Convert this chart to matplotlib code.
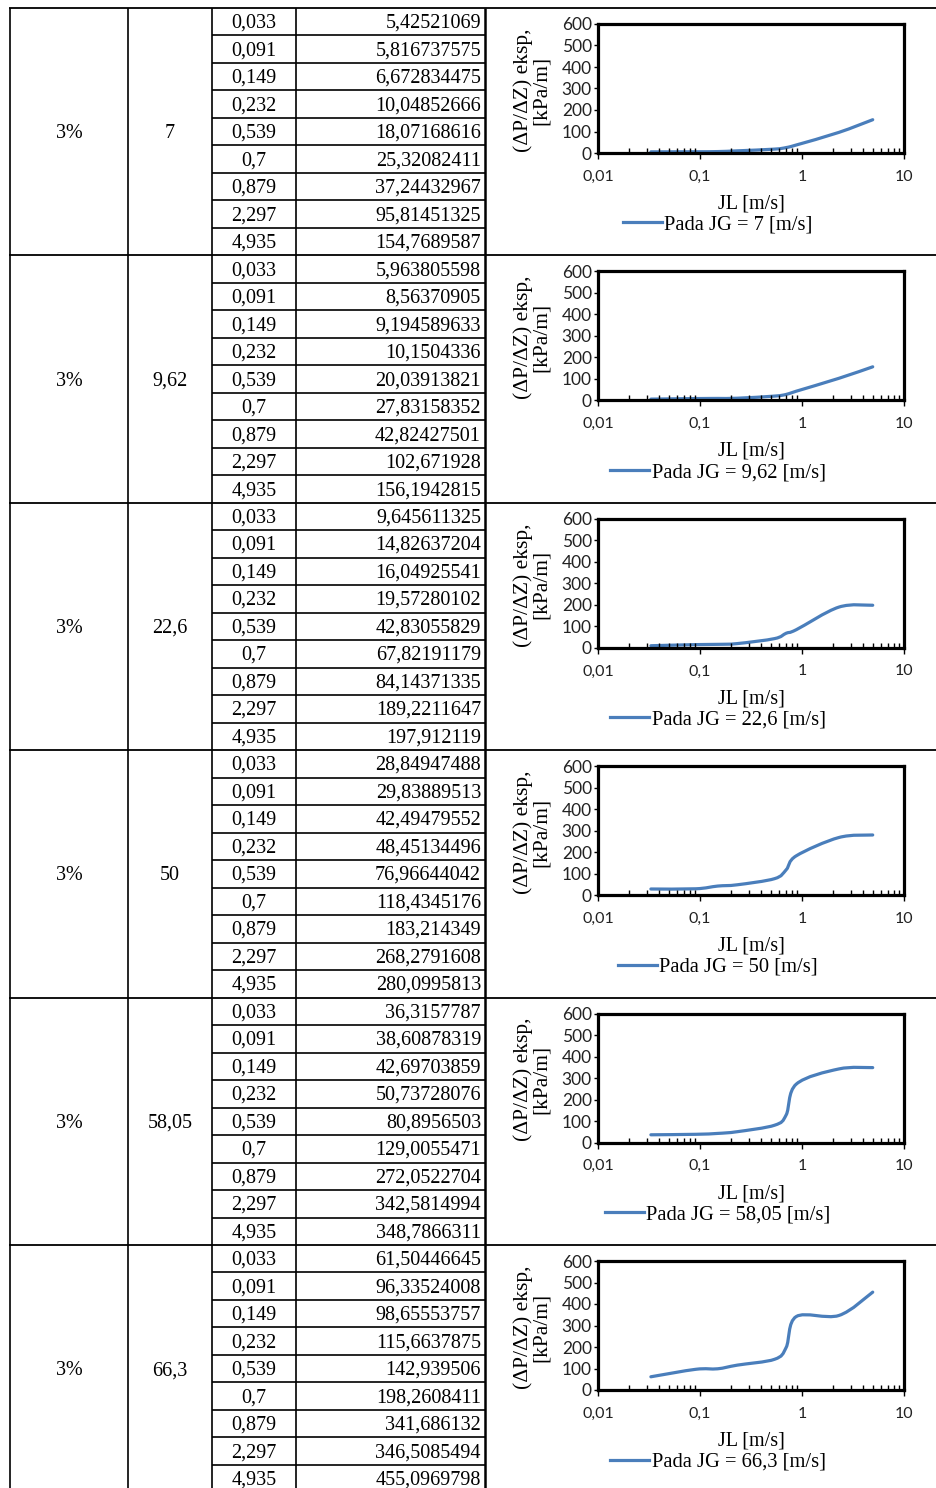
import matplotlib
matplotlib.use("Agg")
import matplotlib.pyplot as plt
import numpy as np
from matplotlib.path import Path
from matplotlib.patches import PathPatch
from matplotlib.lines import Line2D
from matplotlib.ticker import LogLocator, FixedLocator, FuncFormatter

# table data
fraction_labels = ["3%", "3%", "3%", "3%", "3%", "3%"]
jg_labels = ["7", "9,62", "22,6", "50", "58,05", "66,3"]
jl_labels = ["0,033", "0,091", "0,149", "0,232", "0,539", "0,7", "0,879", "2,297", "4,935"]

dp_block1 = ["5,42521069", "5,816737575", "6,672834475", "10,04852666", "18,07168616",
             "25,32082411", "37,24432967", "95,81451325", "154,7689587"]
dp_block2 = ["5,963805598", "8,56370905", "9,194589633", "10,1504336", "20,03913821",
             "27,83158352", "42,82427501", "102,671928", "156,1942815"]
dp_block3 = ["9,645611325", "14,82637204", "16,04925541", "19,57280102", "42,83055829",
             "67,82191179", "84,14371335", "189,2211647", "197,912119"]
dp_block4 = ["28,84947488", "29,83889513", "42,49479552", "48,45134496", "76,96644042",
             "118,4345176", "183,214349", "268,2791608", "280,0995813"]
dp_block5 = ["36,3157787", "38,60878319", "42,69703859", "50,73728076", "80,8956503",
             "129,0055471", "272,0522704", "342,5814994", "348,7866311"]
dp_block6 = ["61,50446645", "96,33524008", "98,65553757", "115,6637875", "142,939506",
             "198,2608411", "341,686132", "346,5085494", "455,0969798"]
dp_blocks = [dp_block1, dp_block2, dp_block3, dp_block4, dp_block5, dp_block6]


def to_float(s):
    return float(s.replace(",", "."))


def smooth_path(x, y):
    # excel-like smoothed line: catmull-rom bezier in (log10 x, y)
    u = np.log10(x)
    y = np.asarray(y, dtype=float)
    n = len(u)
    verts = [(x[0], y[0])]
    codes = [Path.MOVETO]
    for i in range(n - 1):
        i0 = max(i - 1, 0)
        i3 = min(i + 2, n - 1)
        c1u = u[i] + (u[i + 1] - u[i0]) / 6.0
        c1y = y[i] + (y[i + 1] - y[i0]) / 6.0
        c2u = u[i + 1] - (u[i3] - u[i]) / 6.0
        c2y = y[i + 1] - (y[i3] - y[i]) / 6.0
        verts += [(10 ** c1u, c1y), (10 ** c2u, c2y), (x[i + 1], y[i + 1])]
        codes += [Path.CURVE4] * 3
    return Path(verts, codes)


W, H = 937, 1488
fig = plt.figure(figsize=(W / 100, H / 100), dpi=100)
grid = fig.add_axes([0, 0, 1, 1])
grid.set_xlim(0, W)
grid.set_ylim(H, 0)
grid.axis("off")

serif = "Liberation Serif"
sans = "Lato"
line_color = "#4A7EBB"

top0 = 8
block_h = 247.4
row_h = block_h / 9
col_x = [10, 128, 212, 296, 485]

jl = [to_float(s) for s in jl_labels]

for b in range(6):
    bt = top0 + b * block_h
    bb = bt + block_h
    # block separator lines
    grid.plot([col_x[0] - 1, W], [bt, bt], color="black", lw=1.3, solid_capstyle="butt")
    # vertical lines
    for cx in col_x:
        lw = 1.8 if cx == col_x[-1] else 1.2
        grid.plot([cx, cx], [bt, bb], color="black", lw=lw, solid_capstyle="butt")
    # inner row lines
    for r in range(1, 9):
        yy = bt + r * row_h
        grid.plot([col_x[2], col_x[4]], [yy, yy], color="black", lw=1.2,
                  solid_capstyle="butt")
    # cell texts
    grid.text((col_x[0] + col_x[1]) / 2, bt + block_h / 2 + 2, fraction_labels[b],
              ha="center", va="center", family=serif, fontsize=14.5)
    grid.text((col_x[1] + col_x[2]) / 2, bt + block_h / 2 + 2, jg_labels[b],
              ha="center", va="center", family=serif, fontsize=14.5)
    for r in range(9):
        yc = bt + (r + 0.5) * row_h + 1.5
        grid.text((col_x[2] + col_x[3]) / 2, yc, jl_labels[r],
                  ha="center", va="center", family=serif, fontsize=14.5)
        grid.text(col_x[4] - 4, yc, dp_blocks[b][r],
                  ha="right", va="center", family=serif, fontsize=14.5)

    # chart
    left, right = 598, 904
    ptop, pbot = bt + 16, bt + 145
    ax = fig.add_axes([left / W, 1 - pbot / H, (right - left) / W, (pbot - ptop) / H])
    dp = [to_float(s) for s in dp_blocks[b]]
    patch = PathPatch(smooth_path(jl, dp), fill=False, edgecolor=line_color, lw=2.3,
                      capstyle="round", joinstyle="round")
    ax.add_patch(patch)
    ax.set_xscale("log")
    ax.set_xlim(0.01, 10)
    ax.set_ylim(0, 600)
    ax.xaxis.set_major_locator(FixedLocator([0.01, 0.1, 1, 10]))
    ax.xaxis.set_minor_locator(LogLocator(base=10, subs=np.arange(2, 10)))
    ax.xaxis.set_minor_formatter(FuncFormatter(lambda v, p: ""))
    ax.xaxis.set_major_formatter(FuncFormatter(lambda v, p: ("%g" % v).replace(".", ",")))
    ax.set_yticks(np.arange(0, 601, 100))
    for sp in ax.spines.values():
        sp.set_linewidth(2.3)
        sp.set_color("black")
    ax.tick_params(axis="x", which="major", direction="out", length=4, width=1,
                   pad=8, labelsize=11.5, labelcolor="#222")
    ax.tick_params(axis="x", which="minor", direction="in", length=3.5, width=1)
    ax.tick_params(axis="y", direction="out", length=3, width=1, pad=1.5,
                   labelsize=12.5, labelcolor="#222")
    for lab in ax.get_xticklabels() + ax.get_yticklabels():
        lab.set_family(sans)

    fig.text(532 / W, 1 - (bt + 82) / H, "(ΔP/ΔZ) eksp,\n[kPa/m]", rotation=90,
             ha="center", va="center", family=serif, fontsize=15.5, linespacing=0.88)
    fig.text((left + right) / 2 / W, 1 - (bt + 196) / H, "JL [m/s]",
             ha="center", va="center", family=serif, fontsize=14.5)
    handle = Line2D([], [], color=line_color, lw=2.3)
    fig.legend([handle], ["Pada JG = %s [m/s]" % jg_labels[b]], loc="center",
               bbox_to_anchor=(718 / W, 1 - (bt + 217) / H), frameon=False,
               prop={"family": serif, "size": 14.8}, handlelength=1.9,
               handletextpad=0.1, borderpad=0, borderaxespad=0)

fig.savefig("out.png", dpi=100)
